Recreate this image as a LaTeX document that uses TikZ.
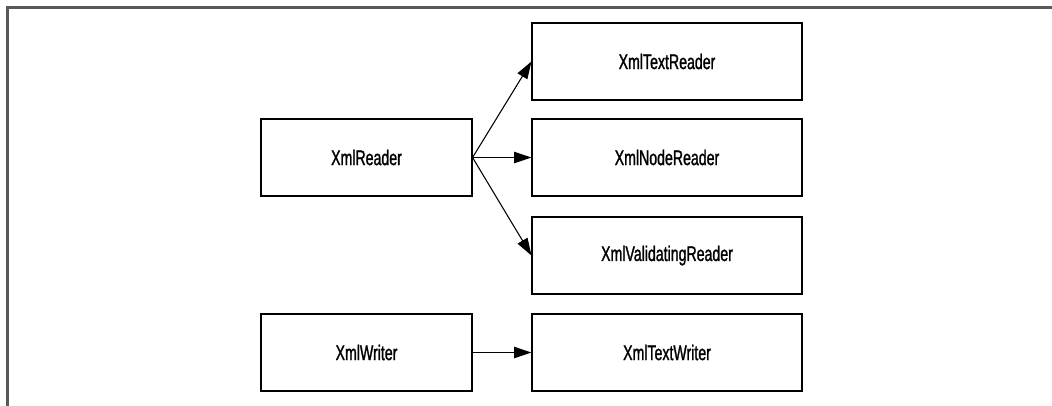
\documentclass[tikz,border=0pt]{standalone}
\usepackage{fontspec}
\setmainfont[FakeStretch=0.667,FakeBold=1.2]{Liberation Sans}
\usetikzlibrary{arrows.meta}
\begin{document}
\begin{tikzpicture}[x=0.75pt,y=-0.75pt,
  box/.style={draw=black,line width=1.2pt,minimum width=210.5*0.75pt,minimum height=77*0.75pt,inner sep=0pt,font=\fontsize{15.9}{18}\selectfont},
  link/.style={line width=0.8pt,-{Triangle[length=13pt,width=8.5pt]}},
  frame/.style={draw=black!65,line width=1.6pt}]
\useasboundingbox (0,0) rectangle (1052,405);
\fill[white] (0,0) rectangle (1052,405);
\coordinate (fa) at (7.5,406);
\coordinate (fb) at (7.5,7.5);
\coordinate (fc) at (1053,7.5);
\draw[frame] (fa) -- (fb) -- (fc);
\node[box] (reader) at (366.5,157.5) {XmlReader};
\node[box] (writer) at (366.5,352.5) {XmlWriter};
\node[box,minimum width=269.5*0.75pt] (text) at (667,61.5) {XmlTextReader};
\node[box,minimum width=269.5*0.75pt] (node) at (667,157.5) {XmlNodeReader};
\node[box,minimum width=269.5*0.75pt] (valid) at (667,255.5) {XmlValidatingReader};
\node[box,minimum width=269.5*0.75pt] (twriter) at (667,352.5) {XmlTextWriter};
\draw[link] (reader.east) -- (text.west);
\draw[link] (reader.east) -- (node.west);
\draw[link] (reader.east) -- (valid.west);
\draw[link] (writer.east) -- (twriter.west);
\end{tikzpicture}
\end{document}
